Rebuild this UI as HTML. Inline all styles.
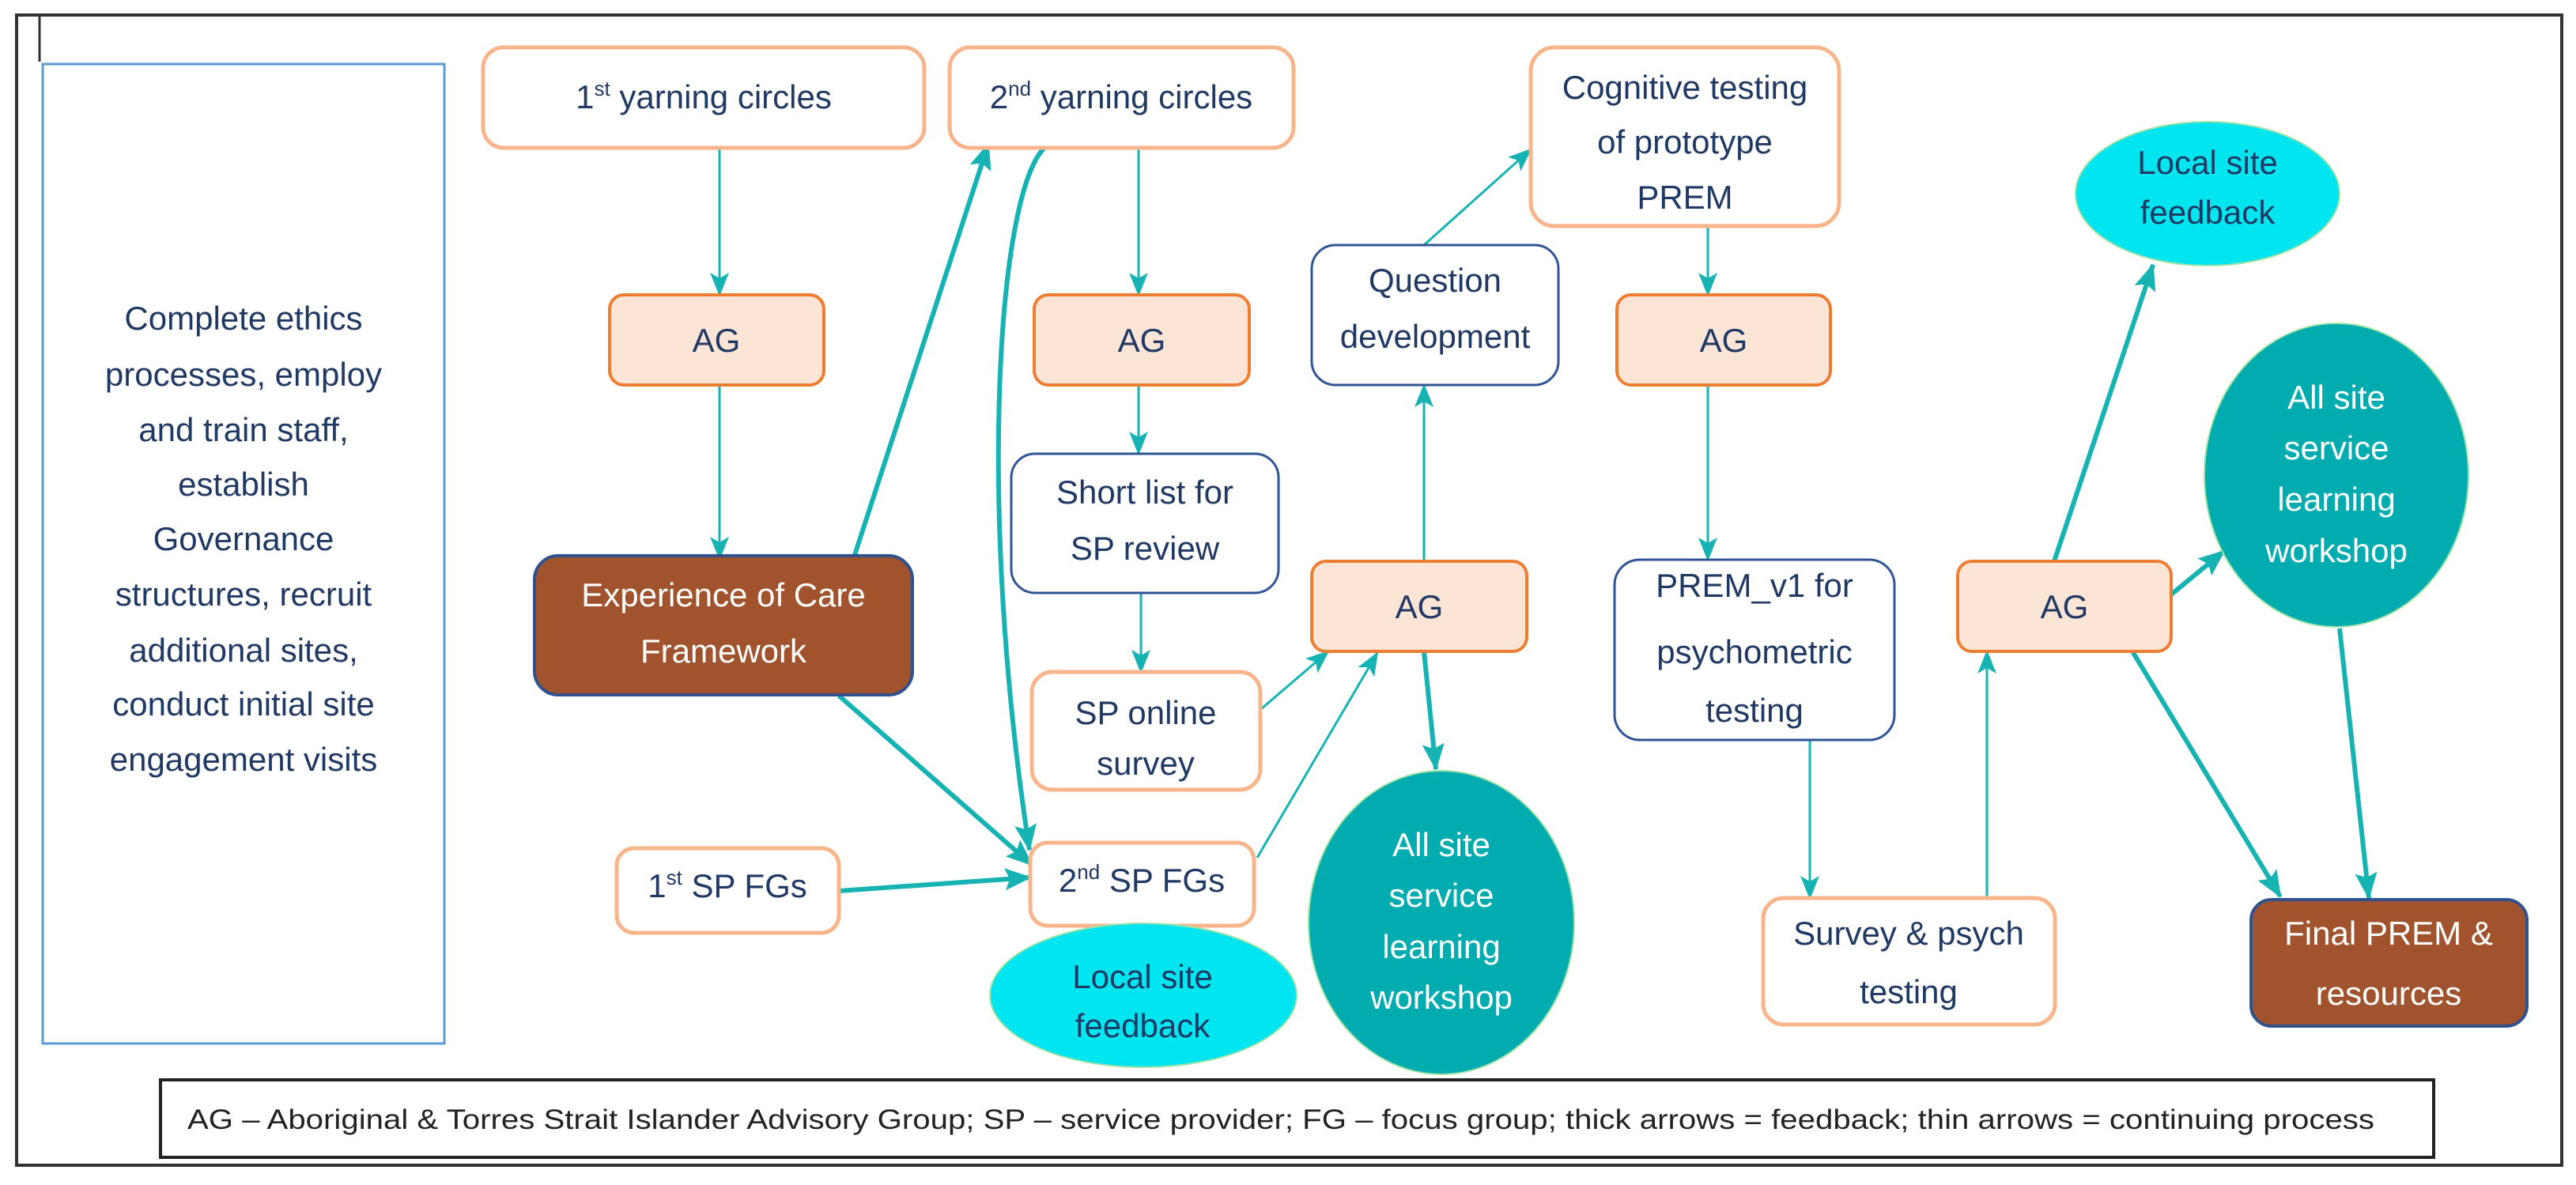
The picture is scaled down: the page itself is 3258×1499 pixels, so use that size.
<!DOCTYPE html>
<html><head><meta charset="utf-8"><style>
html,body{margin:0;padding:0;background:#fff;}
svg{display:block;}
text{font-family:"Liberation Sans",sans-serif;}
</style></head><body>
<svg width="3258" height="1499" viewBox="0 0 3258 1499" xmlns="http://www.w3.org/2000/svg">
<defs>
<marker id="ah" markerUnits="userSpaceOnUse" markerWidth="30" markerHeight="24" refX="28" refY="12" orient="auto">
<path d="M0,0 L30,12 L0,24 L7,12 Z" fill="#17b3b3"/></marker>
<marker id="ahb" markerUnits="userSpaceOnUse" markerWidth="34" markerHeight="28" refX="32" refY="14" orient="auto">
<path d="M0,0 L34,14 L0,28 L6,14 Z" fill="#17b3b3"/></marker>
</defs>
<rect width="3258" height="1499" fill="#fff"/>
<rect x="21" y="19" width="3219" height="1455" fill="none" stroke="#333" stroke-width="4"/>
<line x1="50" y1="19" x2="50" y2="78" stroke="#333" stroke-width="3"/>

<rect x="54" y="81" width="508" height="1239" fill="#fff" stroke="#5b9bd5" stroke-width="3"/>
<g fill="#1f3864" font-size="42" text-anchor="middle">
<text x="308" y="417">Complete ethics</text>
<text x="308" y="488">processes, employ</text>
<text x="308" y="558">and train staff,</text>
<text x="308" y="627">establish</text>
<text x="308" y="696">Governance</text>
<text x="308" y="766">structures, recruit</text>
<text x="308" y="837">additional sites,</text>
<text x="308" y="905">conduct initial site</text>
<text x="308" y="975">engagement visits</text>
</g>

<g stroke="#17b3b3" stroke-width="3" fill="none" marker-end="url(#ah)">
<line x1="910" y1="187" x2="910" y2="373"/>
<line x1="910" y1="487" x2="910" y2="707"/>
<line x1="1440" y1="187" x2="1440" y2="373"/>
<line x1="1440" y1="487" x2="1440" y2="574"/>
<line x1="1443" y1="750" x2="1443" y2="850"/>
<line x1="1596" y1="896" x2="1680" y2="824"/>
<line x1="1590" y1="1085" x2="1742" y2="826"/>
<line x1="1801" y1="710" x2="1801" y2="487"/>
<line x1="1801" y1="310" x2="1936" y2="189"/>
<line x1="2160" y1="286" x2="2160" y2="373"/>
<line x1="2160" y1="487" x2="2160" y2="708"/>
<line x1="2289" y1="936" x2="2289" y2="1136"/>
<line x1="2513" y1="1136" x2="2513" y2="824"/>
</g>
<g stroke="#17b3b3" stroke-width="6" fill="none" marker-end="url(#ahb)">
<line x1="1079" y1="708" x2="1250" y2="182"/>
<path d="M1322,186 C1262,240 1235,640 1302,1075"/>
<line x1="1061" y1="880" x2="1305" y2="1094"/>
<line x1="1061" y1="1127" x2="1303" y2="1110"/>
<line x1="1801" y1="824" x2="1816" y2="973"/>
<line x1="2598" y1="710" x2="2723" y2="335"/>
<line x1="2746" y1="752" x2="2813" y2="697"/>
<line x1="2694" y1="819" x2="2884" y2="1134"/>
<line x1="2959" y1="795" x2="2996" y2="1136"/>
</g>

<g fill="#fff" stroke="#f8b48a" stroke-width="5">
<rect x="611" y="60" width="558" height="127" rx="26"/>
<rect x="1201" y="60" width="435" height="127" rx="26"/>
<rect x="1936" y="60" width="390" height="226" rx="30"/>
<rect x="1305" y="850" width="289" height="149" rx="26"/>
<rect x="1303" y="1066" width="283" height="105" rx="22"/>
<rect x="780" y="1073" width="281" height="107" rx="22"/>
<rect x="2230" y="1136" width="369" height="160" rx="26"/>
</g>
<g fill="#fde5d6" stroke="#ed7d31" stroke-width="4">
<rect x="771" y="373" width="271" height="114" rx="18"/>
<rect x="1308" y="373" width="272" height="114" rx="18"/>
<rect x="2045" y="373" width="270" height="114" rx="18"/>
<rect x="1659" y="710" width="272" height="114" rx="18"/>
<rect x="2476" y="710" width="270" height="114" rx="18"/>
</g>
<g fill="#fff" stroke="#2f5597" stroke-width="3">
<rect x="1279" y="574" width="338" height="176" rx="30"/>
<rect x="1659" y="310" width="312" height="177" rx="30"/>
<rect x="2042" y="708" width="354" height="228" rx="32"/>
</g>
<g fill="#a0532d" stroke="#2f528f" stroke-width="4">
<rect x="676" y="703" width="478" height="176" rx="30"/>
<rect x="2847" y="1138" width="349" height="160" rx="26"/>
</g>
<ellipse cx="1446" cy="1259" rx="194" ry="91" fill="#00e5ef" stroke="#9fe3a8" stroke-width="2"/>
<ellipse cx="2792" cy="245" rx="167" ry="91" fill="#00e5ef" stroke="#9fe3a8" stroke-width="2"/>
<ellipse cx="1823" cy="1167" rx="168" ry="192" fill="#00acb0" stroke="#9fe3a8" stroke-width="2"/>
<ellipse cx="2955" cy="601" rx="167" ry="192" fill="#00acb0" stroke="#9fe3a8" stroke-width="2"/>

<g fill="#1f3864" font-size="42" text-anchor="middle">
<text x="890" y="137">1<tspan font-size="26" dy="-16">st</tspan><tspan dy="16"> yarning circles</tspan></text>
<text x="1418" y="137">2<tspan font-size="26" dy="-16">nd</tspan><tspan dy="16"> yarning circles</tspan></text>
<text x="906" y="445">AG</text>
<text x="1444" y="445">AG</text>
<text x="2180" y="445">AG</text>
<text x="1795" y="782">AG</text>
<text x="2611" y="782">AG</text>
<text x="1448" y="637">Short list for</text>
<text x="1448" y="708">SP review</text>
<text x="1449" y="916">SP online</text>
<text x="1449" y="980">survey</text>
<text x="1444" y="1128">2<tspan font-size="26" dy="-16">nd</tspan><tspan dy="16"> SP FGs</tspan></text>
<text x="920" y="1135">1<tspan font-size="26" dy="-16">st</tspan><tspan dy="16"> SP FGs</tspan></text>
<text x="2131" y="125">Cognitive testing</text>
<text x="2131" y="194">of prototype</text>
<text x="2131" y="264">PREM</text>
<text x="1815" y="369">Question</text>
<text x="1815" y="440">development</text>
<text x="2219" y="755">PREM_v1 for</text>
<text x="2219" y="839">psychometric</text>
<text x="2219" y="913">testing</text>
<text x="2414" y="1195">Survey &amp; psych</text>
<text x="2414" y="1269">testing</text>
<text x="1445" y="1250">Local site</text>
<text x="1445" y="1312">feedback</text>
<text x="2792" y="220">Local site</text>
<text x="2792" y="283">feedback</text>
</g>
<g fill="#fff" font-size="42" text-anchor="middle">
<text x="915" y="767">Experience of Care</text>
<text x="915" y="838">Framework</text>
<text x="3021" y="1195">Final PREM &amp;</text>
<text x="3021" y="1271">resources</text>
<text x="1823" y="1083">All site</text>
<text x="1823" y="1147">service</text>
<text x="1823" y="1212">learning</text>
<text x="1823" y="1276">workshop</text>
<text x="2955" y="517">All site</text>
<text x="2955" y="581">service</text>
<text x="2955" y="646">learning</text>
<text x="2955" y="711">workshop</text>
</g>

<rect x="203" y="1366" width="2875" height="98" fill="#fff" stroke="#222" stroke-width="4"/>
<text x="237" y="1428" font-size="35" fill="#222" textLength="2766" lengthAdjust="spacingAndGlyphs">AG – Aboriginal &amp; Torres Strait Islander Advisory Group; SP – service provider; FG – focus group; thick arrows = feedback; thin arrows = continuing process</text>
</svg>
</body></html>
